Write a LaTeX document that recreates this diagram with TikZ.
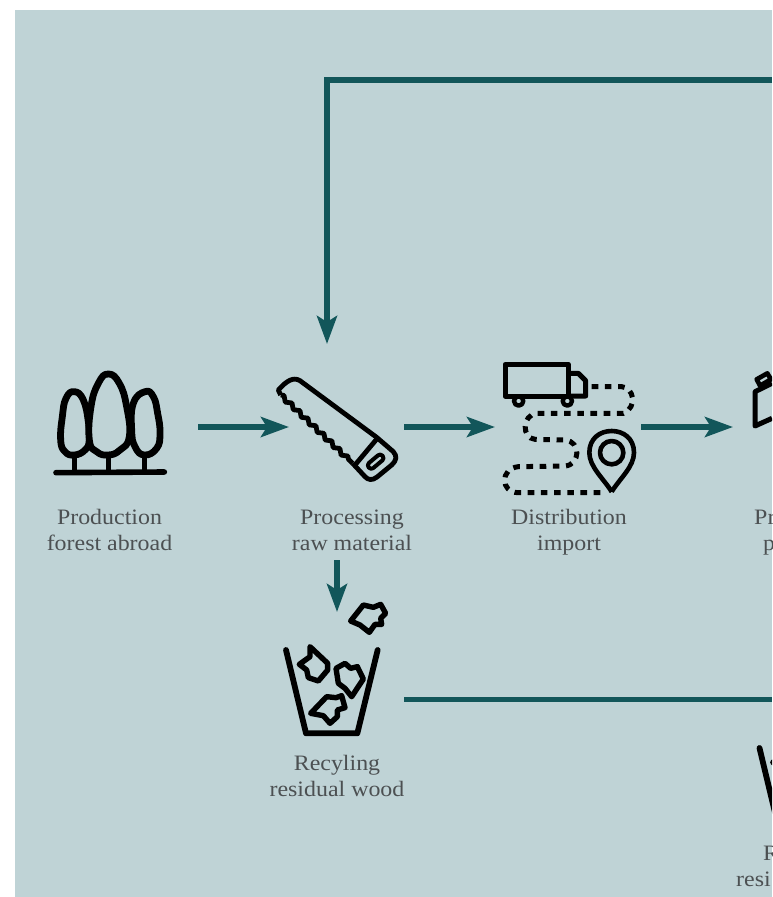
\documentclass[tikz,border=0pt]{standalone}
\usepackage{fontspec}
\setmainfont[FakeStretch=1.087]{Liberation Serif}
\usetikzlibrary{arrows.meta,decorations.pathmorphing}
\definecolor{panel}{HTML}{BFD3D6}
\definecolor{flow}{HTML}{12565A}
\definecolor{caption}{HTML}{4C5052}
\tikzset{
  flowline/.style={draw=flow,line width=5.4pt},
  flowarrow/.style={flowline,-{Stealth[length=28pt,width=20pt,inset=6pt]}},
  icon/.style={draw=black,line width=5.4pt,line join=round},
  caplabel/.style={text=caption,font=\fontsize{22}{26}\selectfont,align=center,inner sep=0pt},
  cutlabel/.style={text=caption,font=\fontsize{22}{26}\selectfont,inner sep=0pt,anchor=base west},
}
\newcommand{\wastebin}[2]{%
\begin{scope}[shift={(#1,#2)},scale=1/3]
  \draw[icon,line width=5.8pt,line cap=round] (78,285)--(138,535)--(292,535)--(353,285);
  \draw[icon] (272,198)--(310,150)--(340,157)--(362,148)--(377,175)--(362,190)--(365,208)--(345,208)--(328,232)--(300,210)--cycle;
  \draw[icon] (150,275)--(203,325)--(203,345)--(175,378)--(145,368)--(140,345)--(118,328)--(150,305)--cycle;
  \draw[icon] (228,340)--(255,325)--(272,340)--(292,335)--(310,372)--(275,425)--(255,400)--(235,385)--cycle;
  \draw[icon] (152,475)--(200,425)--(228,428)--(245,422)--(255,458)--(232,465)--(232,485)--(210,505)--(190,482)--cycle;
\end{scope}}
\begin{document}
\begin{tikzpicture}[x=1pt,y=-1pt]
\useasboundingbox (0,0) rectangle (772,897);
\fill[white] (0,0) rectangle (772,897);
\begin{scope}
\clip (0,0) rectangle (772,897);
\fill[panel] (15,10) rectangle (772,897);

% trees
\begin{scope}[shift={(30,350)},scale=1/3]
  \draw[icon,line width=5.4pt] (133,315)--(133,368) (235,315)--(235,368) (343,315)--(343,368);
  \draw[icon,line width=5.6pt,line cap=round] (78,368)--(403,366);
  \draw[icon,line width=6.8pt] plot[smooth cycle,tension=.8] coordinates {(133,125)(160,150)(175,215)(178,270)(165,300)(133,315)(105,305)(92,270)(97,200)(108,145)};
  \draw[icon,line width=6.8pt] plot[smooth cycle,tension=.8] coordinates {(345,125)(370,140)(383,190)(390,250)(380,295)(343,315)(315,290)(305,240)(310,160)};
  \draw[icon,line width=6.8pt,fill=panel] plot[smooth cycle,tension=.8] coordinates {(235,72)(268,100)(290,170)(298,260)(270,300)(235,315)(200,305)(178,270)(183,170)(205,100)};
\end{scope}

% saw
\begin{scope}[shift={(30,350)},scale=1/3]
  \draw[icon,line width=4.8pt] (752,135) -- (745,120) .. controls (770,92) and (790,80) .. (810,92) -- (1040,262) -- (1090,305) .. controls (1102,320) and (1100,330) .. (1085,345) -- (1040,382) .. controls (1025,392) and (1015,390) .. (1005,380) -- (968,340);
  \draw[icon,line width=4.8pt,decorate,decoration={zigzag,segment length=11pt,amplitude=2pt}] (752,135) -- (968,340);
  \draw[icon,line width=4.8pt] (1042,265) -- (975,345);
  \draw[icon,line width=4pt,rounded corners=3pt,rotate around={40:(1037,335)}] (1010,325) rectangle (1064,345);
\end{scope}

% truck, road, pin
\begin{scope}[shift={(490,350)},scale=1/3]
  \draw[icon,line width=5pt] (45,43) rectangle (235,138);
  \draw[icon,line width=5pt] (235,70) -- (265,70) -- (287,92) -- (287,138) -- (235,138);
  \draw[icon,line width=4.4pt,fill=panel] (86,153) circle[radius=14];
  \draw[icon,line width=4.4pt,fill=panel] (232,153) circle[radius=14];
  \draw[draw=black,line width=5pt,dash pattern=on 6.6pt off 6.6pt] (305,110) -- (395,110) .. controls (430,112) and (445,170) .. (400,190) -- (140,190) .. controls (95,195) and (95,265) .. (135,268) -- (225,270) .. controls (275,275) and (270,345) .. (225,348) -- (85,350) .. controls (30,355) and (30,428) .. (85,428) -- (345,428);
  \draw[icon,line width=4.6pt,line join=miter,miter limit=10] (365,425) .. controls (340,385) and (298,350) .. (298,308) .. controls (298,265) and (330,243) .. (365,243) .. controls (400,243) and (432,265) .. (432,308) .. controls (432,350) and (390,385) .. cycle;
  \draw[icon,line width=4.6pt] (365,308) circle[radius=35];
  % carton at the right edge
  \draw[icon,line width=5pt] (846,205) -- (795,228) -- (795,125) -- (846,100);
  \draw[icon,line width=4.6pt] (800,88) -- (832,70) -- (843,88) -- (810,107) -- cycle;
\end{scope}

\wastebin{260}{555}
\wastebin{733.5}{653}

% captions
\node[caplabel] (production) at (109.5,530) {Production\\forest abroad};
\node[caplabel] (processing) at (352,530) {Processing\\raw material};
\node[caplabel] (distribution) at (569,532) {Distribution\\import};
\node[caplabel] (recycling) at (337,776) {Recyling\\residual wood};
\node[cutlabel] (prA) at (754,524) {Pr};
\node[cutlabel] (prB) at (763,550) {p};
\node[cutlabel] (reA) at (763,860) {R};
\node[cutlabel] (reB) at (736,886) {resi};

% connector ends
\coordinate (forestOut) at (198,427);
\coordinate (sawIn) at (289,427);
\coordinate (sawOut) at (404,427);
\coordinate (truckIn) at (495,427);
\coordinate (truckOut) at (641,427);
\coordinate (cartonIn) at (733,427);
\coordinate (sawDown) at (337,560);
\coordinate (binIn) at (337,612);
\coordinate (binOut) at (404,699.5);
\coordinate (edgeLow) at (772,699.5);
\coordinate (edgeTop) at (772,80);
\coordinate (sawTop) at (327,344);

\draw[flowarrow] (forestOut) -- (sawIn);
\draw[flowarrow] (sawOut) -- (truckIn);
\draw[flowarrow] (truckOut) -- (cartonIn);
\draw[flowarrow] (sawDown) -- (binIn);
\draw[flowline] (binOut) -- (edgeLow);
\draw[flowarrow] (edgeTop) -| (sawTop);
\end{scope}
\end{tikzpicture}
\end{document}
